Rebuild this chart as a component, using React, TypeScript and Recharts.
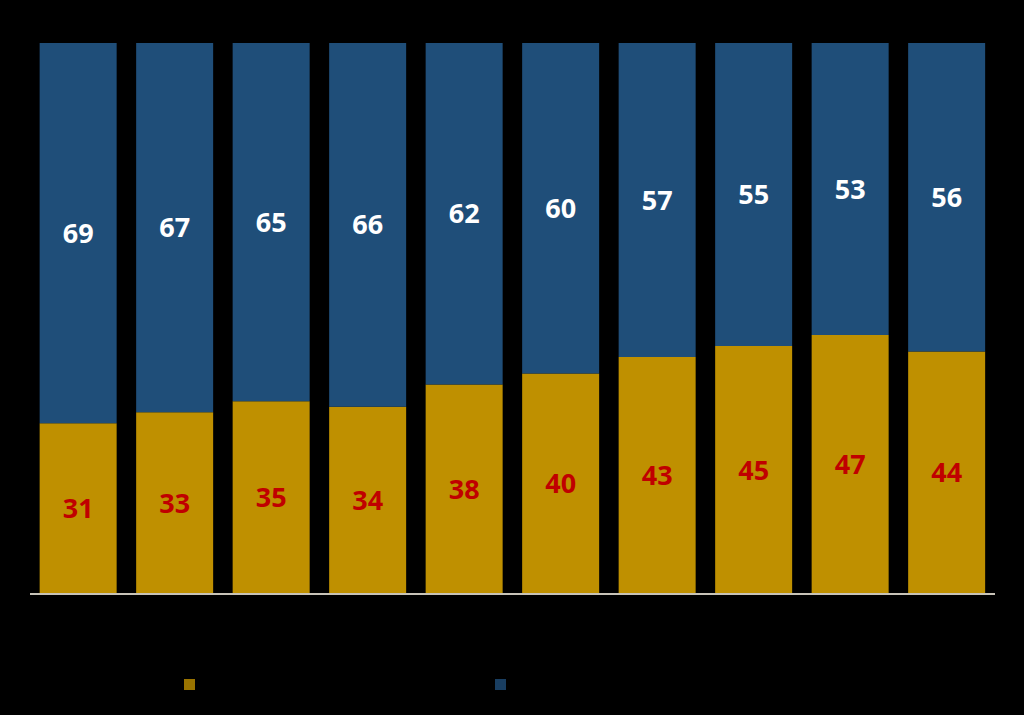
import React from 'react';
import { BarChart, Bar, XAxis, YAxis, LabelList } from 'recharts';

const categories = ['1', '2', '3', '4', '5', '6', '7', '8', '9', '10'];
const goldValues = [31, 33, 35, 34, 38, 40, 43, 45, 47, 44];
const blueValues = [69, 67, 65, 66, 62, 60, 57, 55, 53, 56];

const GOLD = '#BF9000';
const BLUE = '#1F4E79';

const data = categories.map((name, i) => ({
  name,
  gold: goldValues[i],
  blue: blueValues[i]
}));

const labelStyle = {
  fontFamily: '"Open Sans", sans-serif',
  fontWeight: 700,
  fontSize: 27
};

export default function App() {
  return (
    <div style={{ position: 'absolute', left: 0, top: 0, width: 1024, height: 715, background: '#000' }}>
      <BarChart
        width={1024}
        height={715}
        data={data}
        margin={{ top: 43, right: 29, left: 30, bottom: 111 }}
        barCategoryGap="10%"
      >
        <XAxis
          dataKey="name"
          tick={false}
          tickLine={false}
          height={10}
          axisLine={{ stroke: '#c8c3b8', strokeWidth: 2 }}
        />
        <YAxis hide domain={[0, 100]} />
        <Bar dataKey="gold" stackId="a" fill={GOLD} isAnimationActive={false}>
          <LabelList dataKey="gold" position="center" fill="#C00000" style={labelStyle} />
        </Bar>
        <Bar dataKey="blue" stackId="a" fill={BLUE} isAnimationActive={false}>
          <LabelList dataKey="blue" position="center" fill="#FFFFFF" style={labelStyle} />
        </Bar>
      </BarChart>
      <div style={{ position: 'absolute', left: 184, top: 679, width: 11, height: 11, background: GOLD, opacity: 0.8 }} />
      <div style={{ position: 'absolute', left: 495, top: 679, width: 11, height: 11, background: BLUE, opacity: 0.8 }} />
    </div>
  );
}
